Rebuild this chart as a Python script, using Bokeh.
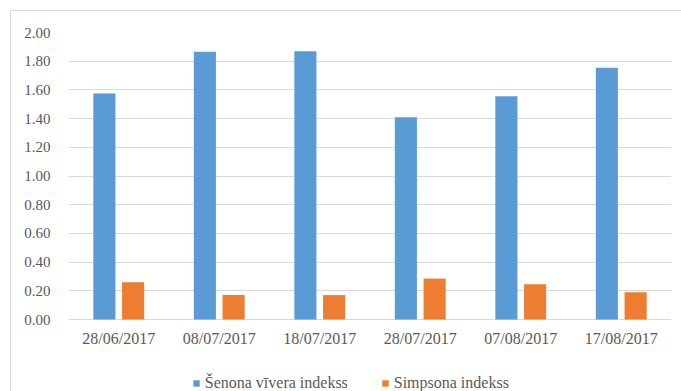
from bokeh.plotting import figure
from bokeh.models import ColumnDataSource, FactorRange, Range1d, Legend, LegendItem, NumeralTickFormatter, FixedTicker
from bokeh.core.properties import value
from bokeh.transform import dodge
from bokeh.embed import file_html
from bokeh.resources import INLINE

dates = ["28/06/2017", "08/07/2017", "18/07/2017", "28/07/2017", "07/08/2017", "17/08/2017"]
shannon = [1.575, 1.865, 1.870, 1.410, 1.555, 1.755]
simpson = [0.26, 0.17, 0.17, 0.285, 0.245, 0.19]
series_names = ["Šenona vīvera indekss", "Simpsona indekss"]
y_ticks = [0.0, 0.2, 0.4, 0.6, 0.8, 1.0, 1.2, 1.4, 1.6, 1.8, 2.0]

BLUE = "#5B9BD5"
ORANGE = "#ED7D31"
GRID = "#D9D9D9"
TEXT = "#595959"
FONT = "Liberation Serif"

source = ColumnDataSource(dict(date=dates, shannon=shannon, simpson=simpson))

# The frame runs down to the bottom edge so that the category labels and
# the legend sit inside it, below the zero line.
PX_PER_UNIT = 287 / 2.0
BELOW_ZERO_PX = 73

p = figure(
    width=671, height=381,
    x_range=FactorRange(*dates, range_padding=0),
    y_range=Range1d(-BELOW_ZERO_PX / PX_PER_UNIT, 2.0),
    x_axis_location=None,
    output_backend="svg", toolbar_location=None,
    min_border_left=57, min_border_right=11, min_border_top=21, min_border_bottom=0,
)
p.margin = (10, 0, 0, 10)
p.styles = {"border-top": "1px solid #D9D9D9", "border-left": "1px solid #D9D9D9"}
p.outline_line_color = None
p.background_fill_color = "white"
p.border_fill_color = "white"

r1 = p.vbar(x=dodge("date", -0.143, range=p.x_range), top="shannon", width=0.22,
            source=source, fill_color=BLUE, line_color=None)
r2 = p.vbar(x=dodge("date", 0.143, range=p.x_range), top="simpson", width=0.22,
            source=source, fill_color=ORANGE, line_color=None)

# category labels under the zero line
p.text(x="date", y=0, text="date", source=source,
       text_font=value(FONT), text_font_size=value("16px"), text_color=TEXT,
       text_align="center", text_baseline="top", y_offset=10)

# y axis: labels only, no line or ticks
p.yaxis.ticker = FixedTicker(ticks=y_ticks)
p.yaxis.formatter = NumeralTickFormatter(format="0.00")
p.yaxis.axis_line_color = None
p.yaxis.major_tick_line_color = None
p.yaxis.minor_tick_line_color = None
p.yaxis.major_label_standoff = 12
p.yaxis.major_label_text_font = FONT
p.yaxis.major_label_text_font_size = "15px"
p.yaxis.major_label_text_color = TEXT

p.xgrid.grid_line_color = None
p.ygrid.ticker = FixedTicker(ticks=y_ticks)
p.ygrid.grid_line_color = GRID

# legend: colour swatches from the renderers, serif names set beside them
LEGEND_Y_OFFSET = 63
swatch_x = [124, 313]        # swatch left edges, px from the frame's left
label_x_offset = [86, 275]   # label starts, px from the first category centre
for renderer, sx in zip([r1, r2], swatch_x):
    leg = Legend(
        items=[LegendItem(label=" ", renderers=[renderer])],
        location=(sx, 0),
        glyph_width=8, glyph_height=8, label_height=18, label_width=1,
        label_standoff=0, padding=0, margin=0,
        border_line_color=None, background_fill_alpha=0,
    )
    p.add_layout(leg, "center")

legend_src = ColumnDataSource(dict(
    x=[dates[0]] * len(series_names), name=series_names, dx=label_x_offset))
p.text(x="x", y=0, text="name", x_offset="dx", y_offset=LEGEND_Y_OFFSET,
       source=legend_src, text_font=value(FONT), text_font_size=value("16px"),
       text_color=TEXT, text_align="left", text_baseline="middle")

open("out.html", "w").write(file_html(p, INLINE))
